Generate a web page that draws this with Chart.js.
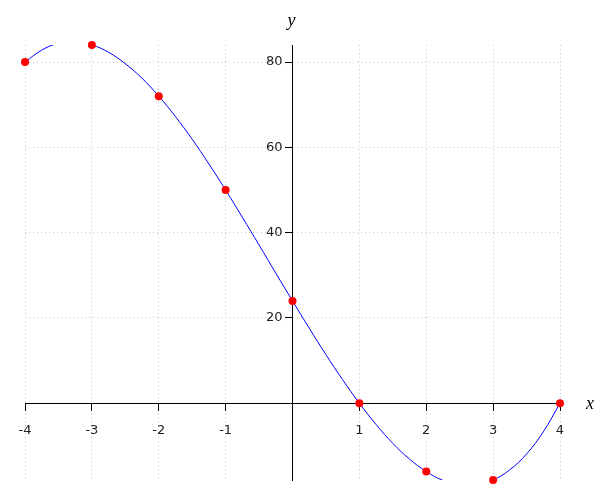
<!DOCTYPE html>
<html>
<head>
<meta charset="utf-8">
<script src="https://cdn.jsdelivr.net/npm/chart.js@4/dist/chart.umd.min.js"></script>
<style>
  html, body { margin: 0; padding: 0; background: #fff; }
  canvas { display: block; }
</style>
</head>
<body>
<canvas id="plot" width="600" height="500"></canvas>
<script>
// marked points
const pointX = [-4, -3, -2, -1, 0, 1, 2, 3, 4];
const pointY = [80, 84, 72, 50, 24, 0, -16, -18, 0];

// curve (quarter steps)
const curveX = [-4, -3.75, -3.5, -3.25, -3, -2.75, -2.5, -2.25, -2, -1.75, -1.5, -1.25, -1,
  -0.75, -0.5, -0.25, 0, 0.25, 0.5, 0.75, 1, 1.25, 1.5, 1.75, 2, 2.25, 2.5, 2.75, 3,
  3.25, 3.5, 3.75, 4];
const curveY = [80, 82.8, 84.4, 84.7, 84, 82.3, 79.6, 76.2, 72, 67.2, 61.9, 56.1, 50,
  43.6, 37.1, 30.5, 24, 17.6, 11.4, 5.5, 0, -5, -9.4, -13.1, -16, -18.1, -19.1, -19.1, -18,
  -15.6, -11.9, -6.7, 0];

const xTicks = [-4, -3, -2, -1, 0, 1, 2, 3, 4];
const yTicks = [0, 20, 40, 60, 80];
const xRange = [-4, 4];
const yRange = [-18, 84];

const toXY = (xs, ys) => xs.map((x, i) => ({ x: x, y: ys[i] }));

const tickFont = { family: '"DejaVu Sans", sans-serif', size: 13 };

// axis names and y tick labels (chart.js puts them on the axis itself when the axis sits at x=0)
const axisText = {
  id: 'axisText',
  afterDraw(chart) {
    const { ctx, chartArea, scales } = chart;
    const x0 = scales.x.getPixelForValue(0);
    ctx.save();
    ctx.fillStyle = '#222';
    ctx.font = tickFont.size + 'px ' + tickFont.family;
    ctx.textAlign = 'right';
    ctx.textBaseline = 'middle';
    yTicks.forEach(v => {
      if (v === 0) return;
      ctx.fillText(String(v), x0 - 10, scales.y.getPixelForValue(v));
    });

    ctx.fillStyle = '#000';
    ctx.font = 'italic 18px "Liberation Serif", "DejaVu Serif", serif';
    ctx.textAlign = 'center';
    ctx.fillText('x', chartArea.right + 30, scales.y.getPixelForValue(0) + 1);
    ctx.fillText('y', x0 - 1, chartArea.top - 24);
    ctx.restore();
  }
};

new Chart(document.getElementById('plot'), {
  type: 'scatter',
  data: {
    datasets: [
      {
        data: toXY(curveX, curveY),
        showLine: true,
        borderColor: '#0000ff',
        borderWidth: 1,
        pointRadius: 0,
        tension: 0.4,
        order: 2
      },
      {
        data: toXY(pointX, pointY),
        backgroundColor: '#ff0000',
        borderColor: '#ff0000',
        pointRadius: 4,
        pointBorderWidth: 0,
        clip: false,
        order: 1
      }
    ]
  },
  options: {
    responsive: false,
    animation: false,
    events: [],
    layout: { padding: { left: 25, right: 40, top: 45, bottom: 20 } },
    plugins: { legend: { display: false }, tooltip: { enabled: false } },
    scales: {
      x: {
        type: 'linear',
        min: xRange[0],
        max: xRange[1],
        position: { y: 0 },
        afterBuildTicks: (s) => { s.ticks = xTicks.map(v => ({ value: v })); },
        grid: {
          color: '#c8c8c8',
          tickColor: (c) => c.tick && c.tick.value === 0 ? 'rgba(0,0,0,0)' : '#000',
          tickLength: 7,
          tickBorderDash: []
        },
        border: { color: '#000', width: 1, dash: [1, 3] },
        ticks: {
          color: '#222',
          font: tickFont,
          padding: 13,
          maxRotation: 0,
          callback: (v) => v === 0 ? '' : String(v)
        }
      },
      y: {
        type: 'linear',
        min: yRange[0],
        max: yRange[1],
        position: { x: 0 },
        afterBuildTicks: (s) => { s.ticks = yTicks.map(v => ({ value: v })); },
        grid: {
          color: '#c8c8c8',
          tickColor: (c) => c.tick && c.tick.value === 0 ? 'rgba(0,0,0,0)' : '#000',
          tickLength: 7,
          tickBorderDash: []
        },
        border: { color: '#000', width: 1, dash: [1, 3] },
        ticks: { display: false }
      }
    }
  },
  plugins: [axisText]
});
</script>
</body>
</html>
